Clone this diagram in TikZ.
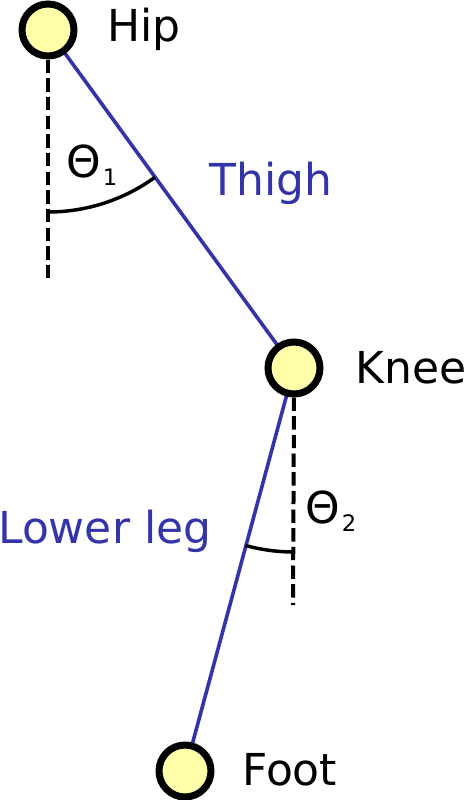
\documentclass[tikz,border=0pt]{standalone}
\usepackage{fontspec}
\setmainfont{DejaVu Sans}
\usetikzlibrary{backgrounds,calc}
\definecolor{limb}{RGB}{51,51,170}
\definecolor{jointfill}{RGB}{255,255,170}
\begin{document}
\begin{tikzpicture}[x=0.75pt,y=0.75pt,
    joint/.style={circle,draw=black,line width=5.25pt,fill=jointfill,minimum size=39pt,inner sep=0pt},
    limbline/.style={limb,line width=2.7pt},
    vertline/.style={black,line width=3pt,dash pattern=on 10pt off 4pt},
    angline/.style={black,line width=2.6pt},
    lbl/.style={anchor=base west,inner sep=0pt,font=\fontsize{33}{40}\selectfont},
    sublbl/.style={font=\fontsize{17}{18}\selectfont}]
    \useasboundingbox (0,0) rectangle (468,-800);
    % joints
    \node[joint] (hip) at (48,-30) {};
    \node[joint] (knee) at (294,-368) {};
    \node[joint] (foot) at (185,-771) {};
    \coordinate (hipdown) at (48,-280);
    \coordinate (kneedown) at (293,-605);
    \begin{scope}[on background layer]
        \draw[limbline] (hip.center) -- (knee.center);
        \draw[limbline] (knee.center) -- (foot.center);
        \draw[vertline] (hip.south) -- (hipdown);
        \draw[vertline] (knee.south) -- (kneedown);
    \end{scope}
    % angles
    \draw[angline] ($(hip)+(270:182)$) arc[start angle=270, end angle=306, radius=182];
    \draw[angline] ($(knee)+(270:184)$) arc[start angle=270, end angle=254.7, radius=184];
    % labels
    \node[lbl] (hiplbl) at (107,-41) {Hip};
    \node[lbl,text=limb] (thighlbl) at (209,-195) {Thigh};
    \node[lbl] (kneelbl) at (355,-383) {Knee};
    \node[lbl,text=limb] (lowerlbl) at (-2,-543) {Lower leg};
    \node[lbl] (footlbl) at (242,-785) {Foot};
    \node[lbl] (theta1) at (66,-177) {Θ};
    \node[lbl,sublbl] (sub1) at (theta1.base east) [xshift=1pt,yshift=-6pt] {1};
    \node[lbl] (theta2) at (305,-523) {Θ};
    \node[lbl,sublbl] (sub2) at (theta2.base east) [xshift=1pt,yshift=-6pt] {2};
\end{tikzpicture}
\end{document}
